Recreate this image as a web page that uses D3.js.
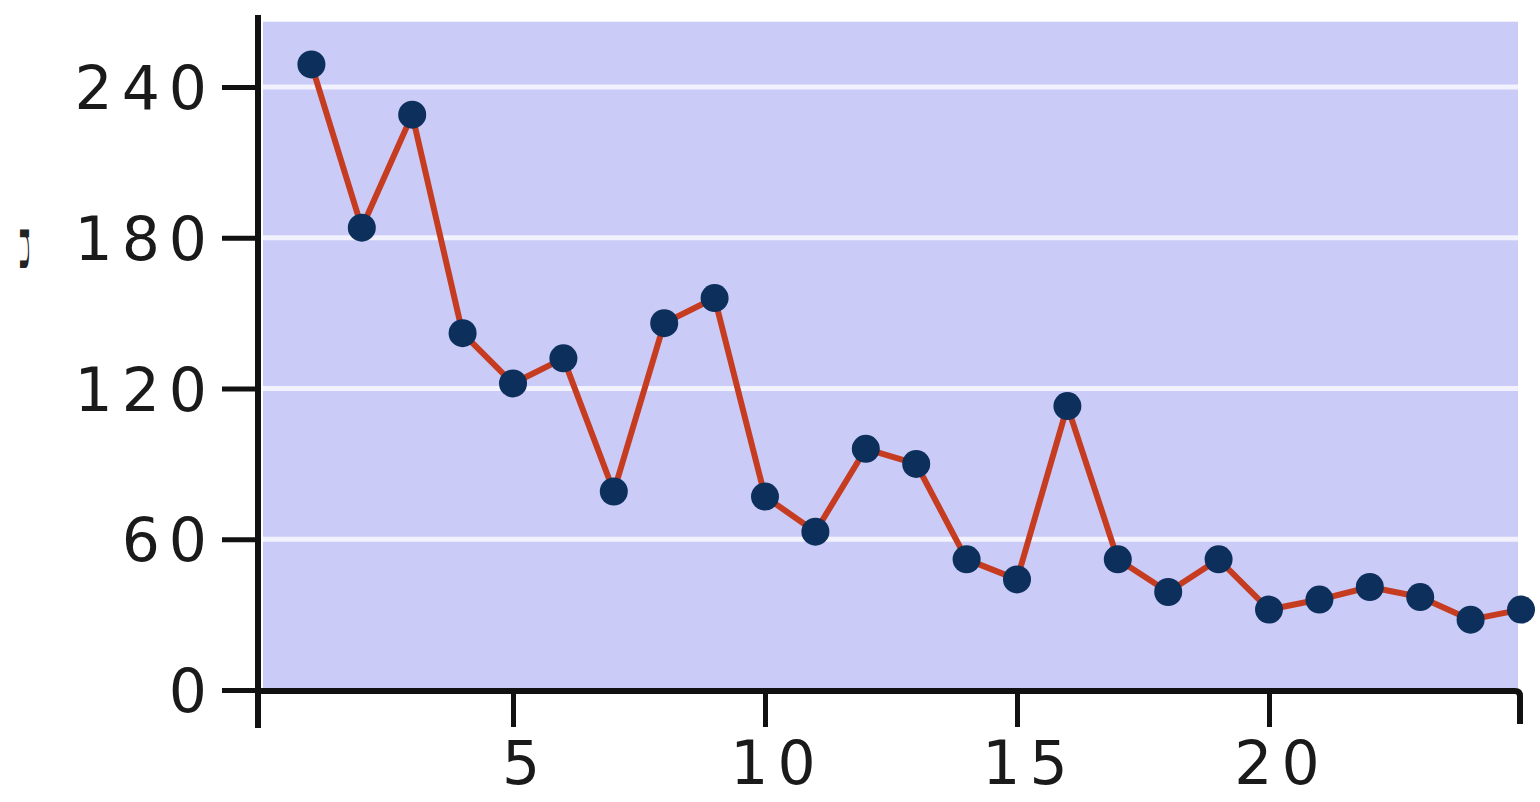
<!DOCTYPE html>
<html>
<head>
<meta charset="utf-8">
<script src="https://cdn.jsdelivr.net/npm/d3@7"></script>
<style>
  body { margin: 0; background: #fff; }
  text { font-family: "DejaVu Sans", Verdana, sans-serif; }
</style>
</head>
<body>
<div id="chart"></div>
<script>
// data
var xValues = [1, 2, 3, 4, 5, 6, 7, 8, 9, 10, 11, 12, 13, 14, 15, 16, 17, 18, 19, 20, 21, 22, 23, 24, 25];
var yValues = [249, 184, 229, 142, 122, 132, 79, 146, 156, 77, 63, 96, 90, 52, 44, 113, 52, 39, 52, 32, 36, 41, 37, 28, 32];
var yTicks = [0, 60, 120, 180, 240];
var xTicks = [5, 10, 15, 20];

var width = 1540,
    height = 802;

var svg = d3.select("#chart")
            .append("svg")
            .attr("width", width)
            .attr("height", height);

var x = d3.scaleLinear()
          .domain([0, 25])
          .range([261, 1521]);

var y = d3.scaleLinear()
          .domain([0, 240])
          .range([690, 87]);

var yTop = 266;

// plot background
svg.append("rect")
   .attr("x", x(0) + 2)
   .attr("y", y(yTop))
   .attr("width", x(25) - x(0) - 5)
   .attr("height", y(0) - y(yTop))
   .attr("fill", "#cbcbf8");

// grid lines
svg.selectAll(".grid")
   .data(yTicks.slice(1))
   .enter()
   .append("line")
       .attr("x1", x(0) + 2)
       .attr("x2", x(25) - 3)
       .attr("y1", function(d) { return y(d); })
       .attr("y2", function(d) { return y(d); })
       .attr("stroke", "#f2f2ff")
       .attr("stroke-width", 5);

// y axis
var yAxis = d3.axisLeft(y)
              .tickValues(yTicks)
              .tickSize(36)
              .tickPadding(6)
              .tickSizeOuter(0);

var gy = svg.append("g")
            .attr("transform", "translate(" + (x(0) - 3) + ",0)")
            .call(yAxis);
gy.select(".domain").remove();
gy.selectAll(".tick line").attr("stroke", "#111").attr("stroke-width", 5);
gy.selectAll(".tick text")
  .attr("font-size", 60)
  .attr("letter-spacing", 9)
  .attr("fill", "#1a1a1a")
  .attr("dy", "0.36em");

svg.append("line")
   .attr("x1", x(0) - 3)
   .attr("x2", x(0) - 3)
   .attr("y1", 15)
   .attr("y2", y(0) + 38)
   .attr("stroke", "#111")
   .attr("stroke-width", 6);

// x axis
var xAxis = d3.axisBottom(x)
              .tickValues(xTicks)
              .tickSize(36)
              .tickPadding(14)
              .tickSizeOuter(0);

var gx = svg.append("g")
            .attr("transform", "translate(0," + (y(0) + 1) + ")")
            .call(xAxis);
gx.select(".domain").remove();
gx.selectAll(".tick line").attr("stroke", "#111").attr("stroke-width", 5);
gx.selectAll(".tick text")
  .attr("font-size", 60)
  .attr("letter-spacing", 9)
  .attr("fill", "#1a1a1a")
  .attr("dx", 12);

svg.append("path")
   .attr("d", "M" + (x(0) - 5) + "," + (y(0) + 1) + "H" + (x(25) - 6) + "q5,0 5,5V" + (y(0) + 34))
   .attr("fill", "none")
   .attr("stroke", "#111")
   .attr("stroke-width", 6);

// clipped axis title fragment at the far left
svg.append("text")
   .attr("transform", "translate(22,222) rotate(90) scale(1,0.18)")
   .attr("font-size", 84)
   .attr("fill", "#222")
   .attr("dy", "0.1em")
   .text("n");

// series line
var points = xValues.map(function(d, i) { return [d, yValues[i]]; });

var line = d3.line()
             .x(function(d) { return x(d[0]); })
             .y(function(d) { return y(d[1]); });

svg.append("path")
   .datum(points)
   .attr("d", line)
   .attr("fill", "none")
   .attr("stroke", "#c63c20")
   .attr("stroke-width", 6)
   .attr("stroke-linejoin", "round");

svg.selectAll("circle")
   .data(points)
   .enter()
   .append("circle")
       .attr("cx", function(d) { return x(d[0]); })
       .attr("cy", function(d) { return y(d[1]); })
       .attr("r", 14)
       .attr("fill", "#0c2f5c");
</script>
</body>
</html>
